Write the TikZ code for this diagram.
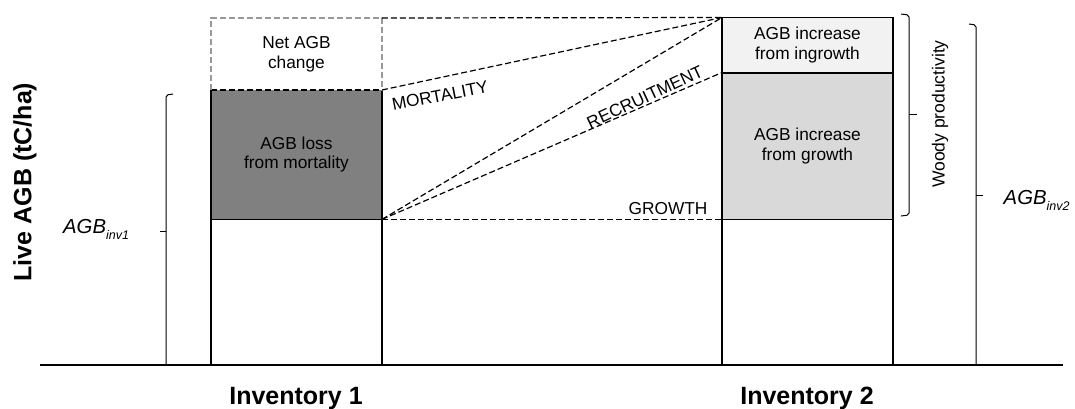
\documentclass[tikz,border=0pt]{standalone}
\usepackage{fontspec}
\setmainfont{Liberation Sans}
\definecolor{lossgray}{HTML}{808080}
\definecolor{growthgray}{HTML}{D9D9D9}
\definecolor{ingrowthgray}{HTML}{F2F2F2}
\definecolor{netgray}{HTML}{999999}
\newcommand{\stocksub}[1]{\raisebox{-6.5pt}{\fontsize{12.5}{14}\selectfont\itshape #1}}
\begin{document}
\begin{tikzpicture}[x=1pt,y=-1pt,
  every node/.style={inner sep=0pt, font=\fontsize{17.3}{19.5}\selectfont},
  bar/.style={minimum width=170.5pt, anchor=north west, align=center},
  outline/.style={line width=1.5pt, black},
  link/.style={line width=1.2pt, dash pattern=on 6pt off 3pt},
  netlink/.style={line width=1.2pt, dash pattern=on 6pt off 3pt, netgray},
  bracket/.style={line width=1pt, rounded corners=2pt},
  axislabel/.style={font=\fontsize{25}{30}\selectfont\bfseries},
  flow/.style={font=\fontsize{17.3}{19.5}\selectfont},
  stock/.style={font=\fontsize{20.3}{24}\selectfont\itshape, anchor=base west},
]
\useasboundingbox (0,0) rectangle (1075,408);

% stacked bars, inventory 1
\node[bar, minimum height=72pt] (net) at (211,18) {Net AGB\\change};
\node[bar, minimum height=129pt, fill=lossgray] (loss) at (211,90) {AGB loss\\from mortality};
\node[bar, minimum height=146pt] (inv1) at (211,219) {};

% stacked bars, inventory 2
\node[bar, minimum height=55pt, fill=ingrowthgray] (ingrowth) at (722,17.5) {AGB increase\\from ingrowth};
\node[bar, minimum height=146.5pt, fill=growthgray] (growth) at (722,72.5) {AGB increase\\from growth};
\node[bar, minimum height=146pt] (inv2) at (722,219) {};

% baseline
\coordinate (axisL) at (40,365);
\coordinate (axisR) at (1063,365);
\draw[outline] (axisL) -- (axisR);

% outlines of inventory 1
\draw[outline] (loss.north west) -- (inv1.south west)
               (loss.north east) -- (inv1.south east)
               (loss.south west) -- (loss.south east);
\draw[link] (loss.north west) -- (loss.north east);
\draw[netlink] (net.south west) -- (net.north west) -- (net.north east) -- (net.south east);

% outlines of inventory 2
\draw[outline] (ingrowth.north west) rectangle (inv2.south east);
\draw[outline] (ingrowth.south west) -- (ingrowth.south east)
               (growth.south west) -- (growth.south east);

% flux connectors
\draw[link] (net.north east) -- (ingrowth.north west);
\draw[link] (loss.north east) -- (ingrowth.north west);
\draw[link] (loss.south east) -- (ingrowth.north west);
\draw[link] (loss.south east) -- (growth.north west);
\draw[link] (loss.south east) -- (growth.south west);

\node[flow, rotate=11] (mort) at (440,95.5) {MORTALITY};
\node[flow, rotate=25] (recr) at (645,97) {RECRUITMENT};
\node[flow] (grow) at (668,209) {GROWTH};

% brackets
\draw[bracket] (173,94) -- (166,95) -- (166,365);
\draw[line width=1pt] (166,231) -- (160,231);
\draw[bracket] (901,14) -- (909,15) -- (909,215) -- (901,216);
\draw[line width=1pt] (909,114) -- (917,114);
\draw[bracket] (969,24) -- (976,25) -- (976,365);
\draw[line width=1pt] (976,195) -- (983,195);

% labels
\node[stock] (agb1) at (63,233) {AGB\stocksub{inv1}};
\node[stock] (agb2) at (1003.5,204) {AGB\stocksub{inv2}};
\node[font=\fontsize{17.5}{20}\selectfont, rotate=90] (woody) at (940,114) {Woody productivity};
\node[axislabel, rotate=90] (ylab) at (25,182) {Live AGB (tC/ha)};
\node[axislabel, anchor=base] (lab1) at (296,404) {Inventory 1};
\node[axislabel, anchor=base] (lab2) at (807,404) {Inventory 2};
\end{tikzpicture}
\end{document}
